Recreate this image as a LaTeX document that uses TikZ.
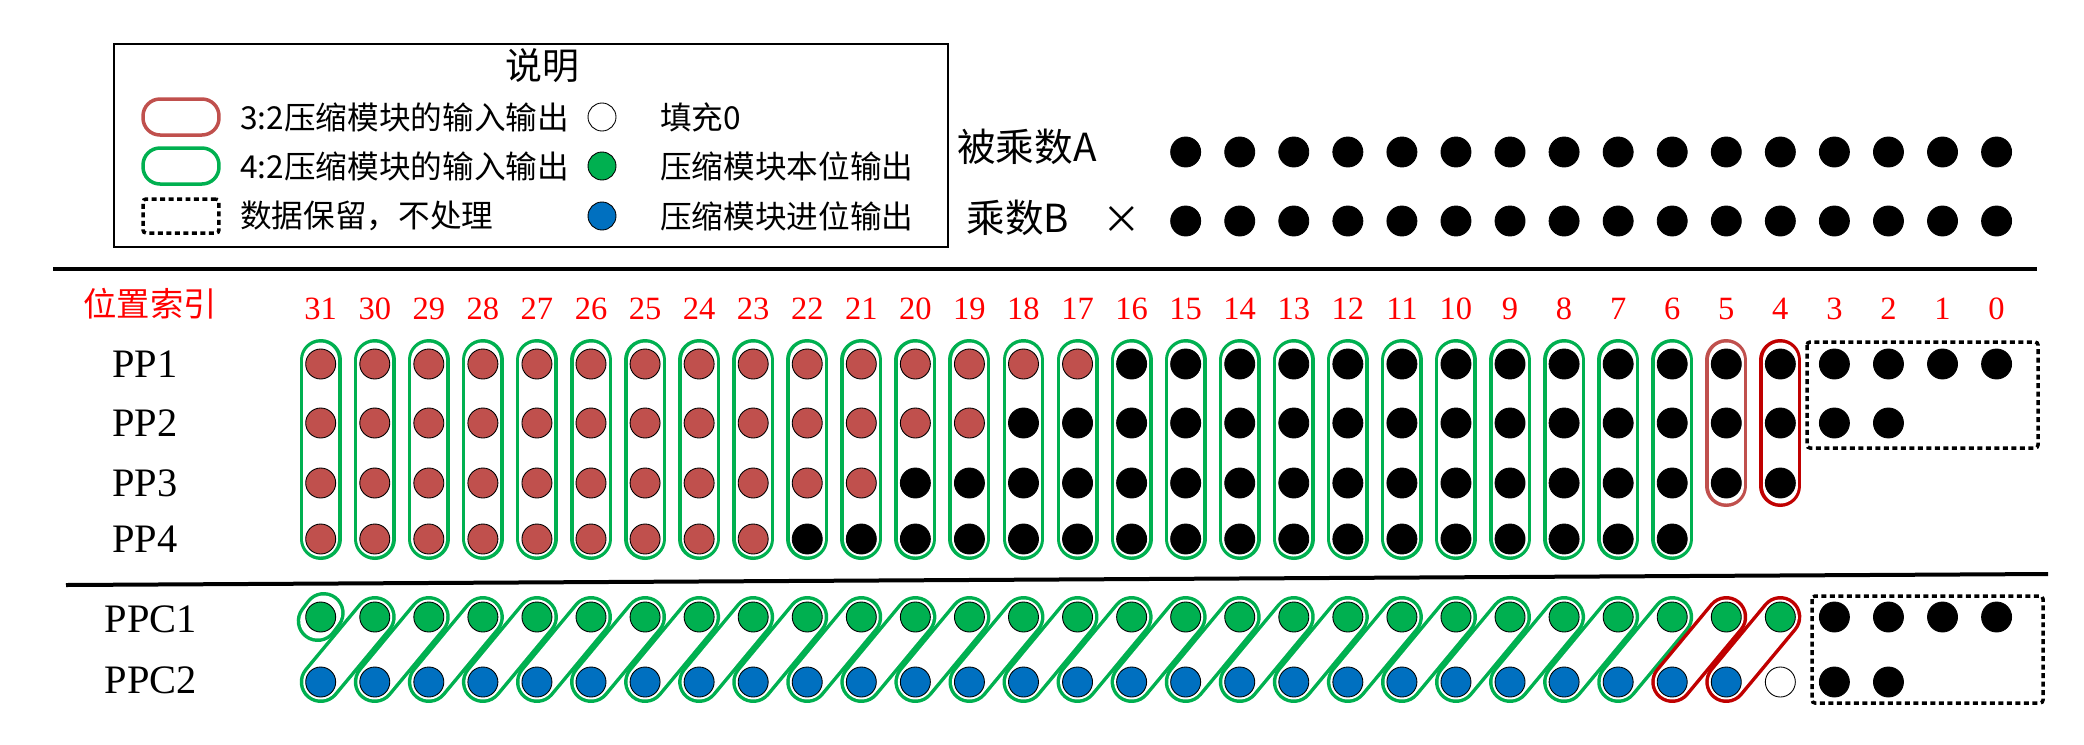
\documentclass[tikz,border=0pt]{standalone}
\usepackage{fontspec}
\setmainfont{Liberation Serif}
\newfontfamily\cjk{Noto Sans CJK SC}
\usepackage{tikz}
\definecolor{dotred}{HTML}{C0504D}
\definecolor{dotgreen}{HTML}{00B050}
\definecolor{dotblue}{HTML}{0070C0}
\definecolor{capred}{HTML}{C00000}
\pgfdeclarelayer{bg}
\pgfsetlayers{bg,main}
\tikzstyle{bit}=[circle,draw=black,line width=0.5pt,minimum size=0.6cm,inner sep=0pt]
\tikzstyle{ring}=[line width=0.07cm,double=white,double distance=0.7cm,line cap=round]
\tikzstyle{keep}=[draw=black,line width=0.07cm,dash pattern=on 0.1cm off 0.07cm,rounded corners=0.06cm]
\tikzstyle{icon}=[line width=0.07cm,minimum width=1.52cm,minimum height=0.72cm,inner sep=0pt,rounded corners=0.34cm]
\tikzstyle{idx}=[text=red,font=\fontsize{18.5}{21}\selectfont]
\tikzstyle{lbl}=[font=\fontsize{23}{26}\selectfont]
\tikzstyle{txt}=[anchor=west,inner sep=0pt,font=\cjk\fontsize{18}{21}\selectfont]
\tikzstyle{big}=[font=\cjk\fontsize{22}{26}\selectfont]

\begin{document}
\begin{tikzpicture}[x=0.02cm,y=-0.02cm]
\useasboundingbox (0,0) rectangle (2084,744);
% legend
\draw[line width=0.04cm] (114,44) rectangle (948,247);
\node[font=\cjk\fontsize{21}{24}\selectfont] (title) at (542,66) {说明};
\node[icon,draw=dotred] (k32) at (181,117) {};
\node[icon,draw=dotgreen] (k42) at (181,166) {};
\node[keep,minimum width=1.52cm,minimum height=0.68cm,inner sep=0pt] (kkeep) at (181,216) {};
\node[txt] (t32) at (240,117) {3:2压缩模块的输入输出};
\node[txt] (t42) at (240,166) {4:2压缩模块的输入输出};
\node[txt] (tkeep) at (240,216) {数据保留，不处理};
\node[bit,fill=white,minimum size=0.56cm] (kzero) at (602,117) {};
\node[bit,fill=dotgreen,minimum size=0.56cm] (ksum) at (602,166) {};
\node[bit,fill=dotblue,minimum size=0.56cm] (kcarry) at (602,216) {};
\node[txt] (tzero) at (660,117) {填充0};
\node[txt] (tsum) at (660,166) {压缩模块本位输出};
\node[txt] (tcarry) at (660,216) {压缩模块进位输出};
% multiplicand and multiplier
\node[big] (na) at (1027,147) {被乘数A};
\node[big] (nb) at (1018,218) {乘数B};
\node[big] (times) at (1122,220) {×};
\foreach \cc in {0,...,15}{
  \pgfmathsetmacro\x{320.7+(31-\cc)*54.06}
  \node[bit,fill=black] (a\cc) at (\x,152) {};
  \node[bit,fill=black] (b\cc) at (\x,221) {};
}
% separators
\coordinate (l1w) at (53,269);
\coordinate (l1e) at (2037,269);
\coordinate (l2w) at (66,585);
\coordinate (l2e) at (2048,574);
\draw[line width=0.08cm] (l1w)--(l1e);
\draw[line width=0.08cm] (l2w)--(l2e);
% index
\node[text=red,font=\cjk\fontsize{19}{22}\selectfont] (pos) at (150,304) {位置索引};
\foreach \cc in {0,...,31}{
  \pgfmathsetmacro\x{320.7+(31-\cc)*54.06}
  \node[idx] (i\cc) at (\x,309) {\cc};
}
% partial products
\foreach \r/\y/\lo in {1/364/0,2/423/2,3/483/4,4/539/6}{
  \node[lbl] (pp\r) at (145,\y) {PP\r};
  \foreach \cc in {\lo,...,31}{
    \pgfmathsetmacro\x{320.7+(31-\cc)*54.06}
    \ifnum\cc<\numexpr15+2*\r\relax \def\col{black}\else \def\col{dotred}\fi
    \node[bit,fill=\col] (p\r-\cc) at (\x,\y) {};
  }
}
% compressed rows
\node[lbl] (ppc1) at (151,619) {PPC1};
\node[lbl] (ppc2) at (151,680) {PPC2};
\foreach \cc in {0,...,31}{
  \pgfmathsetmacro\x{320.7+(31-\cc)*54.06}
  \ifnum\cc<4 \def\col{black}\else \def\col{dotgreen}\fi
  \node[bit,fill=\col] (c1-\cc) at (\x,617) {};
}
\foreach \cc in {2,...,31}{
  \pgfmathsetmacro\x{320.7+(31-\cc)*54.06}
  \ifnum\cc<4 \def\col{black}\else\ifnum\cc=4 \def\col{white}\else \def\col{dotblue}\fi\fi
  \node[bit,fill=\col] (c2-\cc) at (\x,682) {};
}
% compressor groups
\begin{pgfonlayer}{bg}
\foreach \cc in {6,...,31}
  \draw[ring,draw=dotgreen] ([yshift=0.08cm]p1-\cc.center)--(p4-\cc.center);
\draw[ring,draw=dotred] ([yshift=0.08cm]p1-5.center)--([yshift=-0.06cm]p3-5.center);
\draw[ring,draw=capred] ([yshift=0.08cm]p1-4.center)--([yshift=-0.06cm]p3-4.center);
\foreach \cc [evaluate=\cc as \nx using int(\cc+1)] in {6,...,30}
  \draw[ring,draw=dotgreen] (c1-\cc.center)--(c2-\nx.center);
\draw[ring,draw=capred] (c1-5.center)--(c2-6.center);
\draw[ring,draw=capred] (c1-4.center)--(c2-5.center);
\draw[ring,draw=dotgreen] ([xshift=-0.06cm,yshift=-0.08cm]c1-31.center)--([xshift=0.06cm,yshift=0.08cm]c1-31.center);
\end{pgfonlayer}
% kept bits
\draw[keep] (1807,342) rectangle (2038,448);
\draw[keep] (1812,596) rectangle (2043,703);
\end{tikzpicture}
\end{document}
